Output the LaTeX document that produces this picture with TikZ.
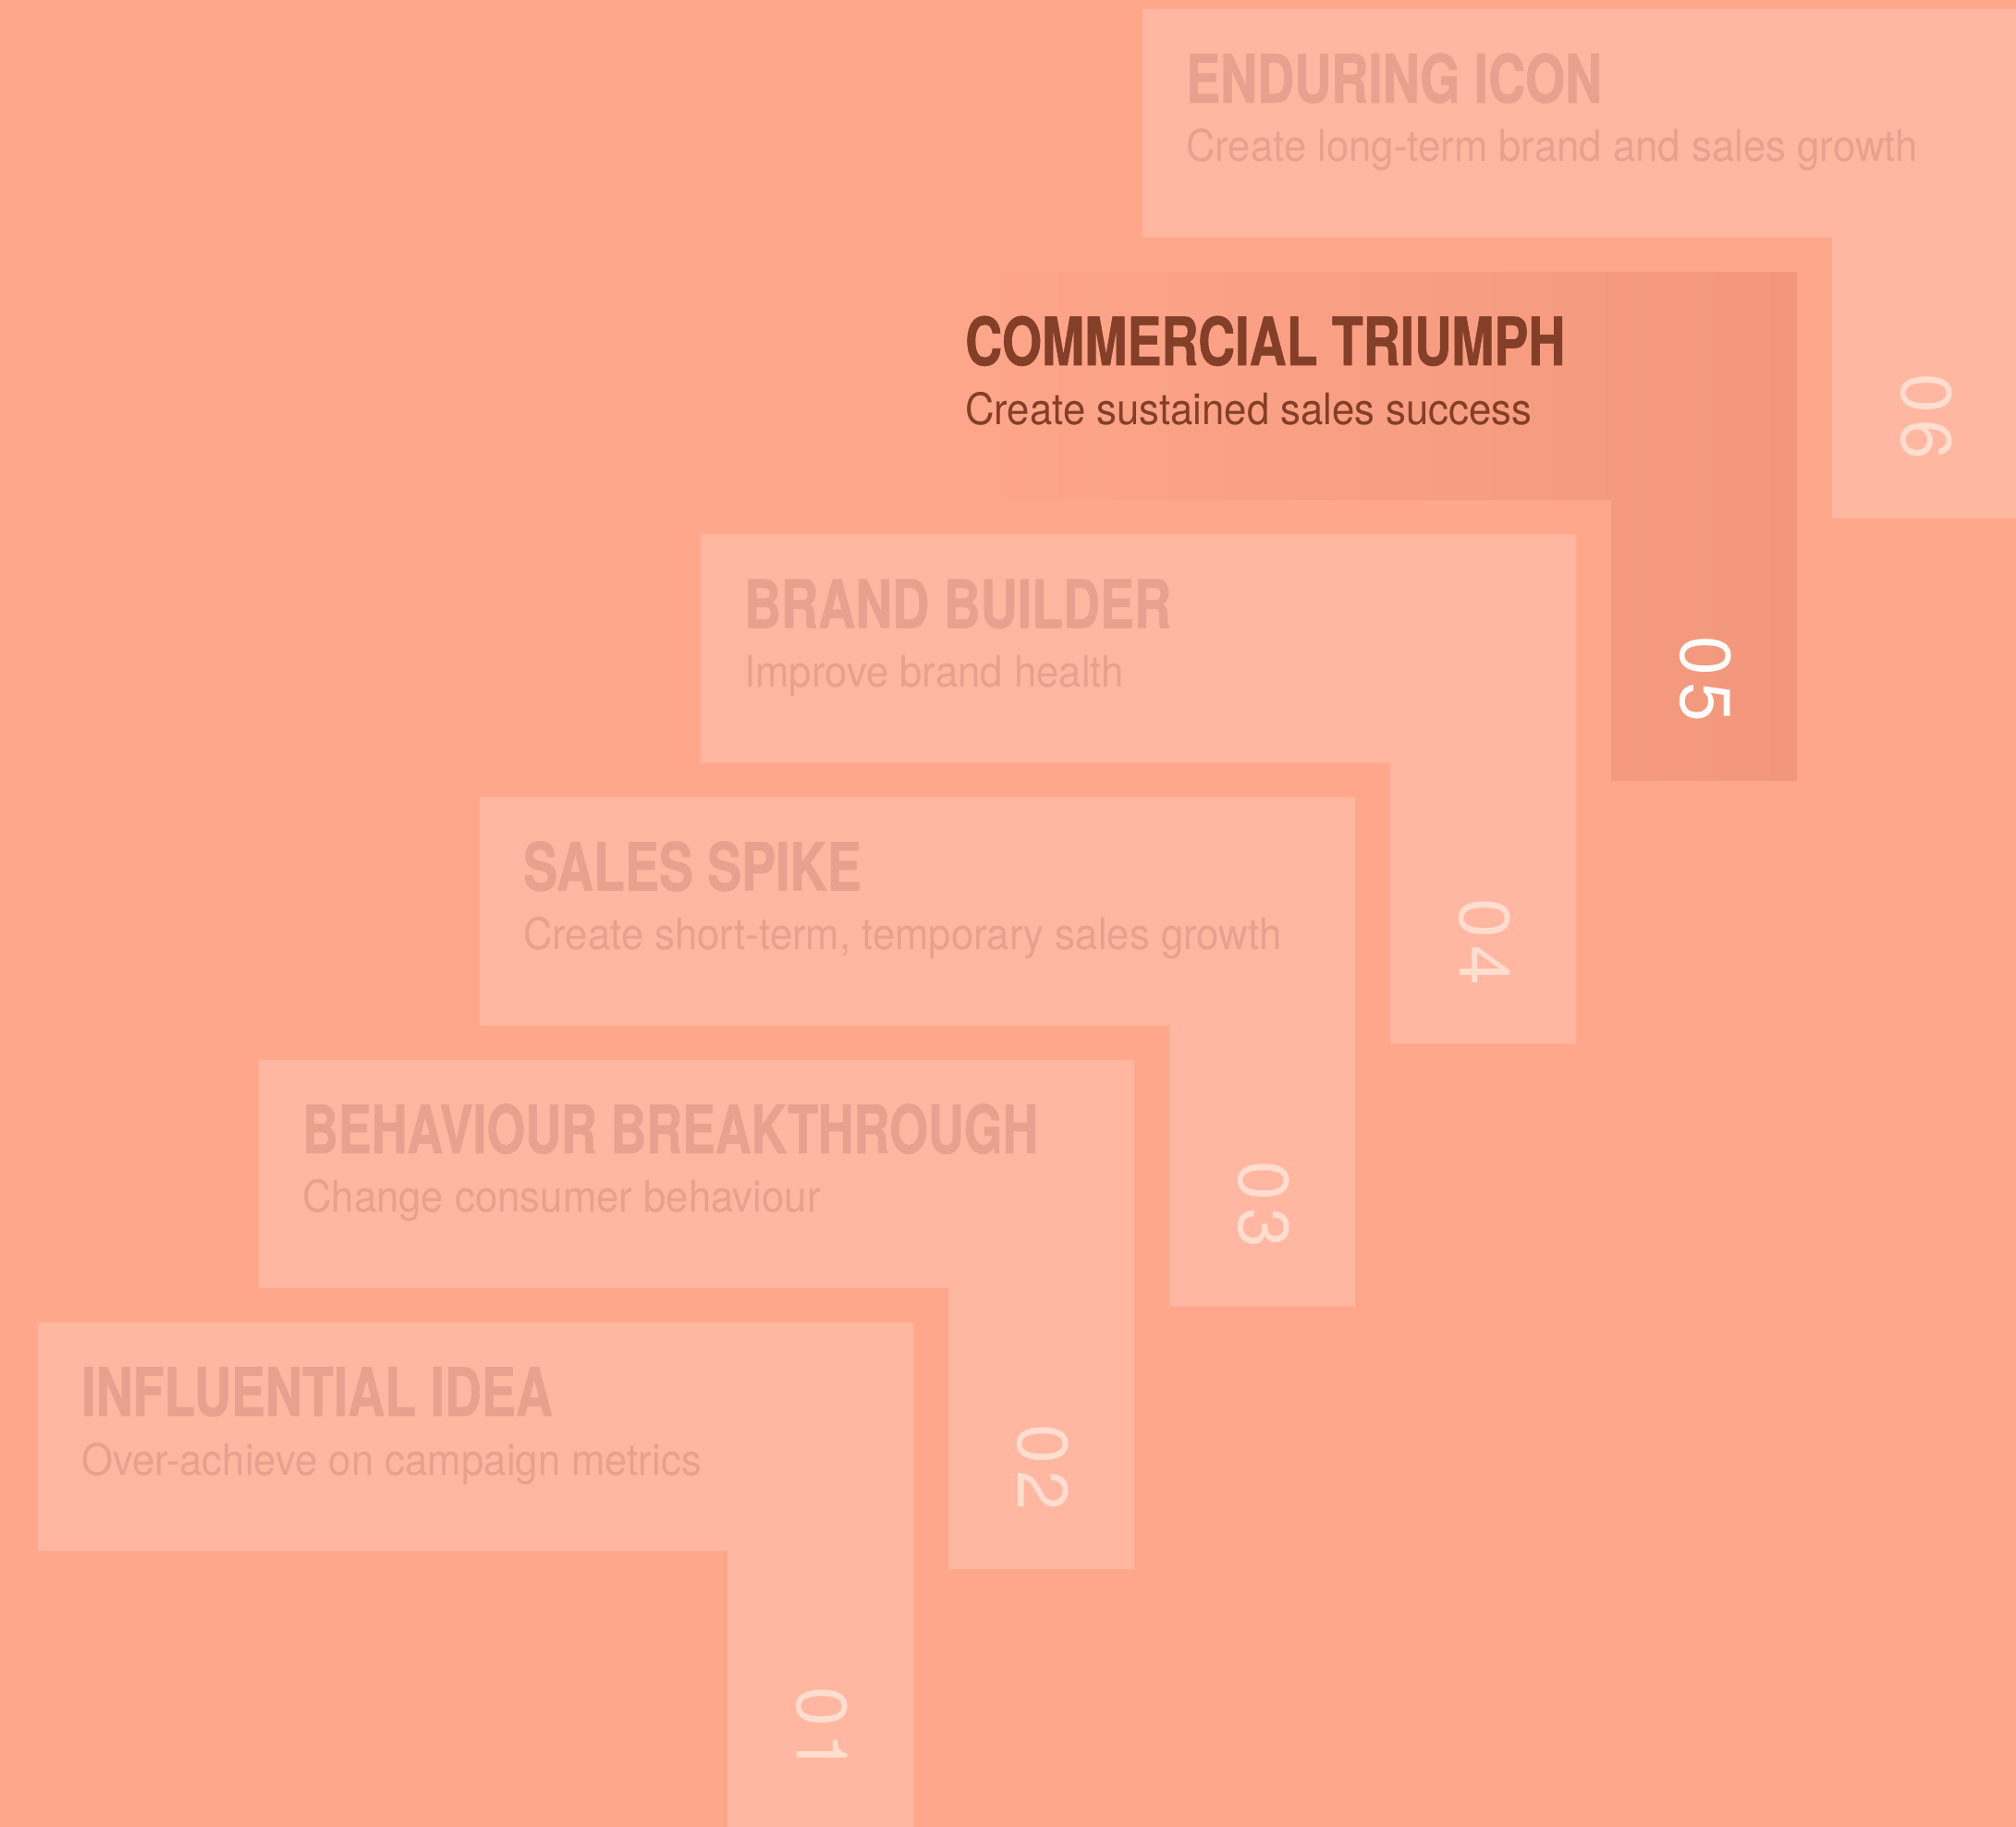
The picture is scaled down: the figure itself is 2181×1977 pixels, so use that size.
\documentclass[tikz,border=0pt]{standalone}
\usepackage{fontspec}
\newfontfamily\titlefont[FakeStretch=0.77,FakeBold=0.8]{TeX Gyre Heros}
\newfontfamily\subfont[FakeStretch=0.93]{TeX Gyre Heros}
\newfontfamily\numfont[LetterSpace=10]{TeX Gyre Heros}
\definecolor{bg}{HTML}{FFA78B}
\definecolor{boxc}{HTML}{FFB7A1}
\definecolor{txtc}{HTML}{E8A08F}
\definecolor{numc}{HTML}{FFDDCF}
\definecolor{hlc}{HTML}{F2977B}
\definecolor{hltxt}{HTML}{843F28}
\tikzset{
  titletext/.style={anchor=base west, inner sep=0pt, font=\titlefont\bfseries\fontsize{72}{80}\selectfont},
  subtext/.style={anchor=base west, inner sep=0pt, font=\subfont\fontsize{47}{56}\selectfont},
  numtext/.style={anchor=center, inner sep=0pt, rotate=-90, font=\numfont\fontsize{77}{80}\selectfont},
}
\begin{document}
\begin{tikzpicture}[x=1pt,y=-1pt]
\fill[bg] (0,0) rectangle (2181,1977);
\useasboundingbox (0,0) rectangle (2181,1977);
\foreach \k/\T/\S in {1/INFLUENTIAL IDEA/Over-achieve on campaign metrics,
                      2/{\scalebox{0.968}[1]{BEHAVIOUR BREAKTHROUGH}}/Change consumer behaviour,
                      3/SALES SPIKE/{Create short-term, temporary sales growth},
                      4/BRAND BUILDER/Improve brand health,
                      6/ENDURING ICON/Create long-term brand and sales growth}{
  \pgfmathsetmacro\L{41+239*(\k-1)}
  \pgfmathsetmacro\Tp{1431-284.2*(\k-1)}
  \fill[boxc] (\L,\Tp) -- ++(947,0) -- ++(0,551) -- ++(-201,0) -- ++(0,-304) -- ++(-746,0) -- cycle;
  \node[titletext, text=txtc] (t\k) at (\L+47,\Tp+101) {\T};
  \node[subtext, text=txtc] (s\k) at (\L+47,\Tp+165) {\S};
  \node[numtext, text=numc] (n\k) at (\L+848,\Tp+441) {0\k};
}
% highlighted step 05
\pgfmathsetmacro\L{41+239*4}
\pgfmathsetmacro\Tp{1431-284.2*4}
\shade[left color=bg, right color=hlc] (\L,\Tp) -- ++(947,0) -- ++(0,551) -- ++(-201,0) -- ++(0,-304) -- ++(-746,0) -- cycle;
\node[titletext, text=hltxt] (t5) at (\L+47,\Tp+101) {COMMERCIAL TRIUMPH};
\node[subtext, text=hltxt] (s5) at (\L+47,\Tp+165) {Create sustained sales success};
\node[numtext, text=white] (n5) at (\L+848,\Tp+441) {05};
\end{tikzpicture}
\end{document}
